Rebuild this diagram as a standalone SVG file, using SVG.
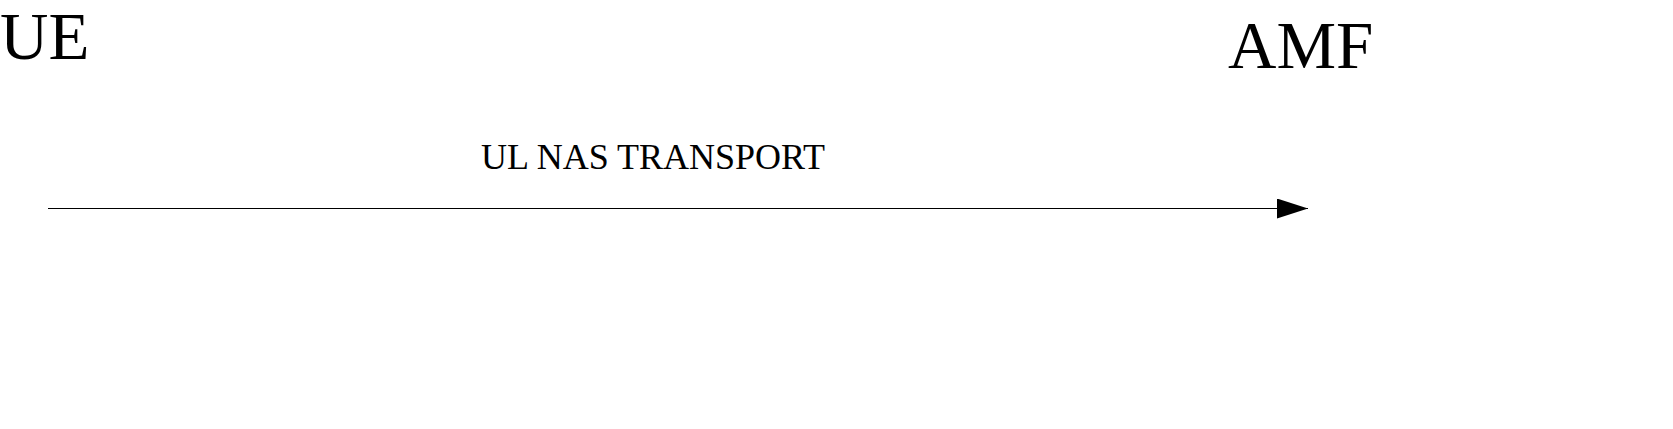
<svg xmlns="http://www.w3.org/2000/svg" width="1673" height="429" viewBox="0 0 1673 429">
<style>
.actor{font-family:"Liberation Serif","Times New Roman",serif;font-size:67px;fill:#000}
.msg{font-family:"Liberation Serif","Times New Roman",serif;font-size:36px;fill:#000}
.line{stroke:#000;stroke-width:1;fill:none}
</style>
<defs>
<marker id="arrow" markerWidth="31" markerHeight="20" refX="31" refY="10" orient="auto" markerUnits="userSpaceOnUse">
<path d="M0,0 L31,10 L0,20 Z" fill="#000"/>
</marker>
</defs>
<rect width="1673" height="429" fill="#fff"/>
<g id="ue"><text class="actor" x="0" y="59">UE</text></g>
<g id="amf"><text class="actor" x="1228" y="68">AMF</text></g>
<g id="connectors">
<line class="line" x1="48" y1="208.5" x2="1308" y2="208.5" marker-end="url(#arrow)"/>
<text class="msg" x="481" y="169">UL NAS TRANSPORT</text>
</g>
</svg>
